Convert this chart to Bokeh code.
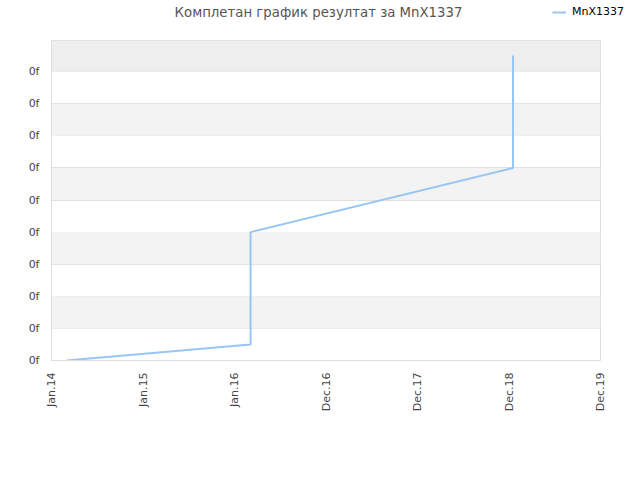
from bokeh.embed import file_html
from bokeh.layouts import column, row
from bokeh.models import (BoxAnnotation, ColumnDataSource, FixedTicker, Label,
                          Legend, LegendItem, Range1d)
from bokeh.plotting import figure
from bokeh.resources import INLINE
import math

# days since Jan 1 2014, and the running result
days = [60, 794, 794, 1841, 1841]
results = [0.0, 0.5, 4.0, 6.0, 9.5]

x_ticks = [0, 365, 730, 1095, 1460, 1825, 2190]
x_labels = ["Jan.14", "Jan.15", "Jan.16", "Dec.16", "Dec.17", "Dec.18", "Dec.19"]
y_ticks = [0, 1, 2, 3, 4, 5, 6, 7, 8, 9]
y_labels = ["0f"] * len(y_ticks)

FONT = "DejaVu Sans"
LINE_COLOR = "#99c5f5"

# header strip: title and legend
head = figure(width=624, height=40, output_backend="svg", toolbar_location=None,
              x_range=Range1d(0, 624), y_range=Range1d(0, 40),
              x_axis_type=None, y_axis_type=None,
              min_border_left=0, min_border_right=0,
              min_border_top=0, min_border_bottom=0)
head.outline_line_color = None
head.xgrid.visible = False
head.ygrid.visible = False
head.add_layout(Label(x=318, y=28, x_units="screen", y_units="screen",
                      text="Комплетан график резултат за MnX1337",
                      text_align="center", text_baseline="middle",
                      text_font=FONT, text_font_size="13.3px",
                      text_color="#555555"))
# stand-in renderer (kept off the visible range) so the legend has a swatch
swatch = head.line([-20, -10], [-20, -20], line_color=LINE_COLOR, line_width=2)
legend = Legend(items=[LegendItem(label="MnX1337", renderers=[swatch])],
                location=(552, 22), padding=0, margin=0, spacing=0,
                border_line_color=None, background_fill_alpha=0,
                glyph_width=14, glyph_height=10, label_height=10,
                label_standoff=6, label_text_font=FONT,
                label_text_font_size="11px", label_text_color="#000000")
head.add_layout(legend)

p = figure(width=624, height=424, output_backend="svg", toolbar_location=None,
           x_range=Range1d(0, 2190), y_range=Range1d(0, 9.97),
           min_border_left=51, min_border_right=24, min_border_top=0,
           min_border_bottom=104)
p.outline_line_color = "#dddddd"
p.background_fill_color = "white"

# striped background
for lo in [1, 3, 5, 7]:
    p.add_layout(BoxAnnotation(bottom=lo, top=lo + 1, fill_color="#f3f3f3",
                               fill_alpha=1, line_color=None, level="underlay"))
p.add_layout(BoxAnnotation(bottom=9, fill_color="#eeeeee", fill_alpha=1,
                           line_color=None, level="underlay"))

p.xgrid.visible = False
p.ygrid.ticker = FixedTicker(ticks=y_ticks)
p.ygrid.grid_line_color = "#e0e0e0"

p.xaxis.ticker = FixedTicker(ticks=x_ticks)
p.xaxis.major_label_overrides = dict(zip(x_ticks, x_labels))
p.xaxis.major_label_orientation = math.pi / 2
p.yaxis.ticker = FixedTicker(ticks=y_ticks)
p.yaxis.major_label_overrides = dict(zip(y_ticks, y_labels))
for ax in (p.xaxis, p.yaxis):
    ax.axis_line_color = "#dddddd"
    ax.major_tick_line_color = None
    ax.minor_tick_line_color = None
    ax.major_label_text_font = FONT
    ax.major_label_text_font_size = "11px"
    ax.major_label_text_color = "#444444"
    ax.major_label_standoff = 6

src = ColumnDataSource(dict(day=days, result=results))
p.line("day", "result", source=src, line_color=LINE_COLOR, line_width=2)

# the header sits in its own row so its frame is not lined up with the chart's
page = column(row(head), p, spacing=0)
open("out.html", "w").write(file_html(page, INLINE))
